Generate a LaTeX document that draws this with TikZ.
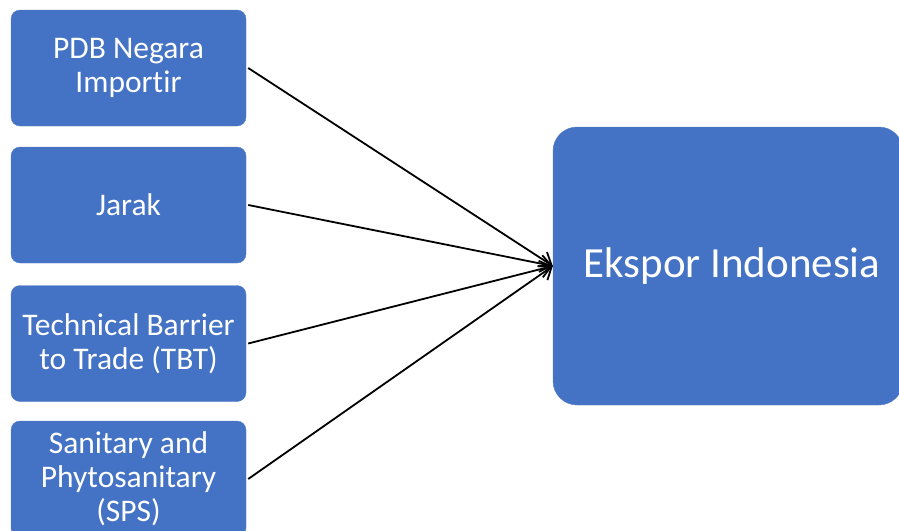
\documentclass[tikz,border=0pt]{standalone}
\usepackage{fontspec}
\setmainfont{Carlito}[Ligatures=NoCommon]
\usepackage{tikz}
\usetikzlibrary{arrows.meta}
\definecolor{boxblue}{HTML}{4472C4}

\begin{document}
\begin{tikzpicture}[x=1pt,y=-1pt,
  factorbox/.style={fill=boxblue,draw=boxblue!90!white,rounded corners=9pt,
    minimum width=235pt,minimum height=116pt,inner sep=0pt,
    text=white,align=center,font=\fontsize{31.5}{34}\selectfont},
  targetbox/.style={fill=boxblue,draw=boxblue!90!white,rounded corners=24pt,
    minimum width=350pt,minimum height=278pt,inner sep=0pt,
    text=white,font=\fontsize{43}{50}\selectfont},
  link/.style={line width=1.8pt,-{Straight Barb[length=11pt,width=17pt,line width=1.8pt]}}]
\useasboundingbox (0,0) rectangle (899,530);
\node[targetbox] (ekspor) at (728,266) {\hspace*{8pt}Ekspor Indonesia};
\foreach \name/\ypos/\label in {pdb/68/{PDB Negara\\Importir},
                                 jarak/205/{Jarak},
                                 tbt/343.5/{Technical Barrier\\to Trade (TBT)},
                                 sps/479/{Sanitary and\\Phytosanitary\\(SPS)}} {
  \node[factorbox] (\name) at (128.5,\ypos) {\label};
  \draw[link] ([xshift=2pt]\name.east) -- (ekspor.west);
}
\end{tikzpicture}
\end{document}
